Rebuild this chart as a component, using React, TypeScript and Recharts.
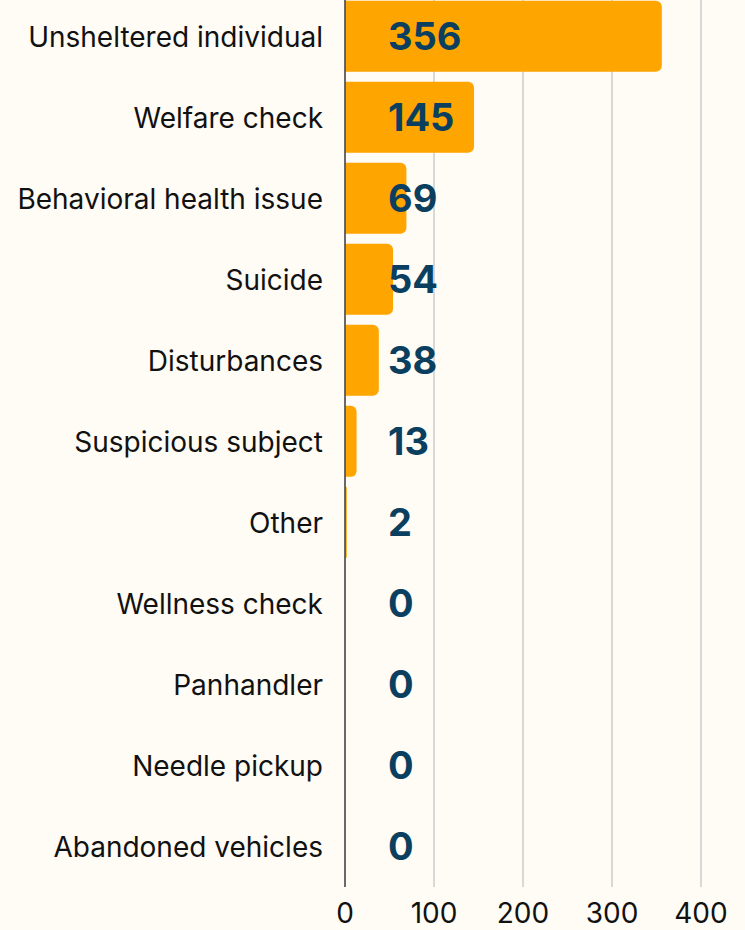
import React from 'react';
import {
  BarChart,
  Bar,
  XAxis,
  YAxis,
  CartesianGrid,
} from 'recharts';

const categories = [
  'Unsheltered individual',
  'Welfare check',
  'Behavioral health issue',
  'Suicide',
  'Disturbances',
  'Suspicious subject',
  'Other',
  'Wellness check',
  'Panhandler',
  'Needle pickup',
  'Abandoned vehicles',
];
const counts = [356, 145, 69, 54, 38, 13, 2, 0, 0, 0, 0];
const xTicks = [0, 100, 200, 300, 400];

const data = categories.map((name, i) => ({ name, count: counts[i] }));

const AXIS_WIDTH = 345;
const FONT = 'Inter, sans-serif';

// category label on the left, the count drawn just inside the plot
const CategoryTick = (props: any) => {
  const { x, y, payload, index } = props;
  return (
    <g>
      <text x={x} y={y} dy="0.36em" textAnchor="end" fill="#111111" fontSize={28} fontFamily={FONT}>
        {payload.value}
      </text>
      <text
        x={AXIS_WIDTH + 43}
        y={y}
        dy="0.36em"
        textAnchor="start"
        fill="#0B3F5F"
        fontSize={38}
        fontWeight={700}
        fontFamily={FONT}
      >
        {counts[index]}
      </text>
    </g>
  );
};

const App = () => {
  return (
    <div
      style={{
        position: 'absolute',
        left: 0,
        top: 0,
        width: 745,
        height: 930,
        background: '#FFFBF5',
      }}
    >
      <BarChart
        width={745}
        height={930}
        data={data}
        layout="vertical"
        margin={{ top: -4, right: 44, left: 0, bottom: 0 }}
        barCategoryGap="6%"
      >
        <CartesianGrid horizontal={false} stroke="#CCCCCC" strokeWidth={1.5} />
        <XAxis
          type="number"
          domain={[0, 400]}
          ticks={xTicks}
          axisLine={false}
          tickLine={false}
          height={43}
          tickMargin={10}
          tick={{ fill: '#111111', fontSize: 28, fontFamily: FONT }}
        />
        <Bar dataKey="count" fill="#FFA500" radius={[0, 6, 6, 0]} isAnimationActive={false} />
        <YAxis
          type="category"
          dataKey="name"
          width={AXIS_WIDTH}
          tickLine={false}
          tickSize={0}
          tickMargin={22}
          axisLine={{ stroke: '#444444', strokeWidth: 1.5 }}
          tick={<CategoryTick />}
        />
      </BarChart>
    </div>
  );
};

export default App;
